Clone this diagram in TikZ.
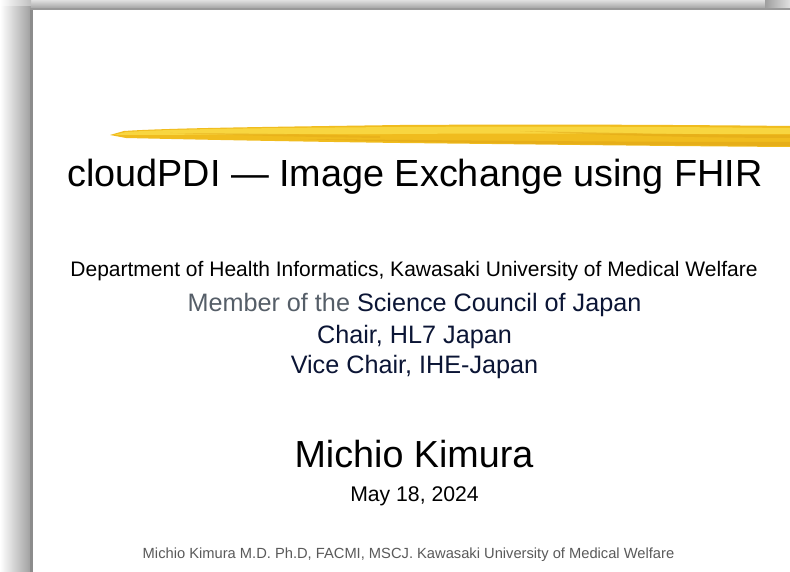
\documentclass[tikz,border=0pt]{standalone}
\usepackage{fontspec}
\setmainfont{Liberation Sans}
\definecolor{memgray}{HTML}{555E68}
\definecolor{navy}{HTML}{0B1535}
\definecolor{footgray}{HTML}{5A5A5A}
\definecolor{hlgold}{HTML}{F0BC1E}
\definecolor{hllight}{HTML}{F8D640}
\definecolor{hldark}{HTML}{E0A516}
\tikzset{
  line/.style={anchor=base, inner sep=0pt},
}
\newcommand{\fsz}[1]{\fontsize{#1}{#1}\selectfont}
\begin{document}
\begin{tikzpicture}[x=1pt,y=-1pt]
\useasboundingbox (0,0) rectangle (790,572);
% slide shadow along the left and top edges
\shade[left color=white, right color=black!38] (0,6) rectangle (31,572);
\shade[top color=black!12, bottom color=black!38] (31,0) rectangle (790,9);
\shade[left color=white, right color=black!25] (0,0) rectangle (31,6);
\shade[left color=black!38, right color=black!12] (765,0) rectangle (790,9);
\fill[black!45] (30,9) rectangle (33,572);
\fill[black!40] (30,8) rectangle (790,10);
% slide surface
\fill[white] (33,10) rectangle (790,572);
% highlighter stroke
\fill[hlgold] (110,135) -- (124,131) .. controls (170,128) and (260,127) .. (400,125)
  .. controls (560,124) and (700,125) .. (790,126)
  -- (790,147) .. controls (650,146) and (500,144) .. (400,143)
  .. controls (260,141) and (170,139) .. (126,138) -- cycle;
\fill[hllight] (114,135) -- (126,132) .. controls (170,129) and (260,128) .. (400,127)
  .. controls (550,126) and (680,127) .. (790,128)
  -- (790,134) .. controls (650,134) and (520,133) .. (400,134)
  .. controls (280,134) and (170,135) .. (114,135) -- cycle;
\fill[hldark, opacity=0.6] (300,139) .. controls (420,140) and (600,142) .. (790,142)
  -- (790,146) .. controls (600,145) and (430,143) .. (300,139) -- cycle;
\fill[hldark, opacity=0.5] (520,131) .. controls (620,133) and (720,135) .. (790,135)
  -- (790,138) .. controls (720,138) and (620,136) .. (520,131) -- cycle;
\fill[hldark, opacity=0.4] (170,133) .. controls (230,133) and (300,134) .. (380,136)
  -- (380,138) .. controls (300,137) and (230,135) .. (170,133) -- cycle;
% title and text lines
\node[line] (title) at (415,187) {\fsz{37.8}cloudPDI — Image Exchange using FHIR};
\node[line] (dept) at (414,276.5) {\fsz{21}Department of Health Informatics, Kawasaki University of Medical Welfare};
\node[line] (member) at (414.5,311) {\fsz{25.2}\textcolor{memgray}{Member of the} \textcolor{navy}{Science Council of Japan}};
\node[line] (chair) at (414.5,343) {\fsz{25.2}\textcolor{navy}{Chair, HL7 Japan}};
\node[line] (vice) at (414.5,373) {\fsz{25.2}\textcolor{navy}{Vice Chair, IHE-Japan}};
\node[line] (name) at (414,467) {\fsz{37.7}Michio Kimura};
\node[line] (date) at (414.5,501) {\fsz{21.2}May 18, 2024};
\node[line] (foot) at (408.5,558) {\fsz{14.7}\textcolor{footgray}{Michio Kimura M.D. Ph.D, FACMI, MSCJ. Kawasaki University of Medical Welfare}};
\end{tikzpicture}
\end{document}
